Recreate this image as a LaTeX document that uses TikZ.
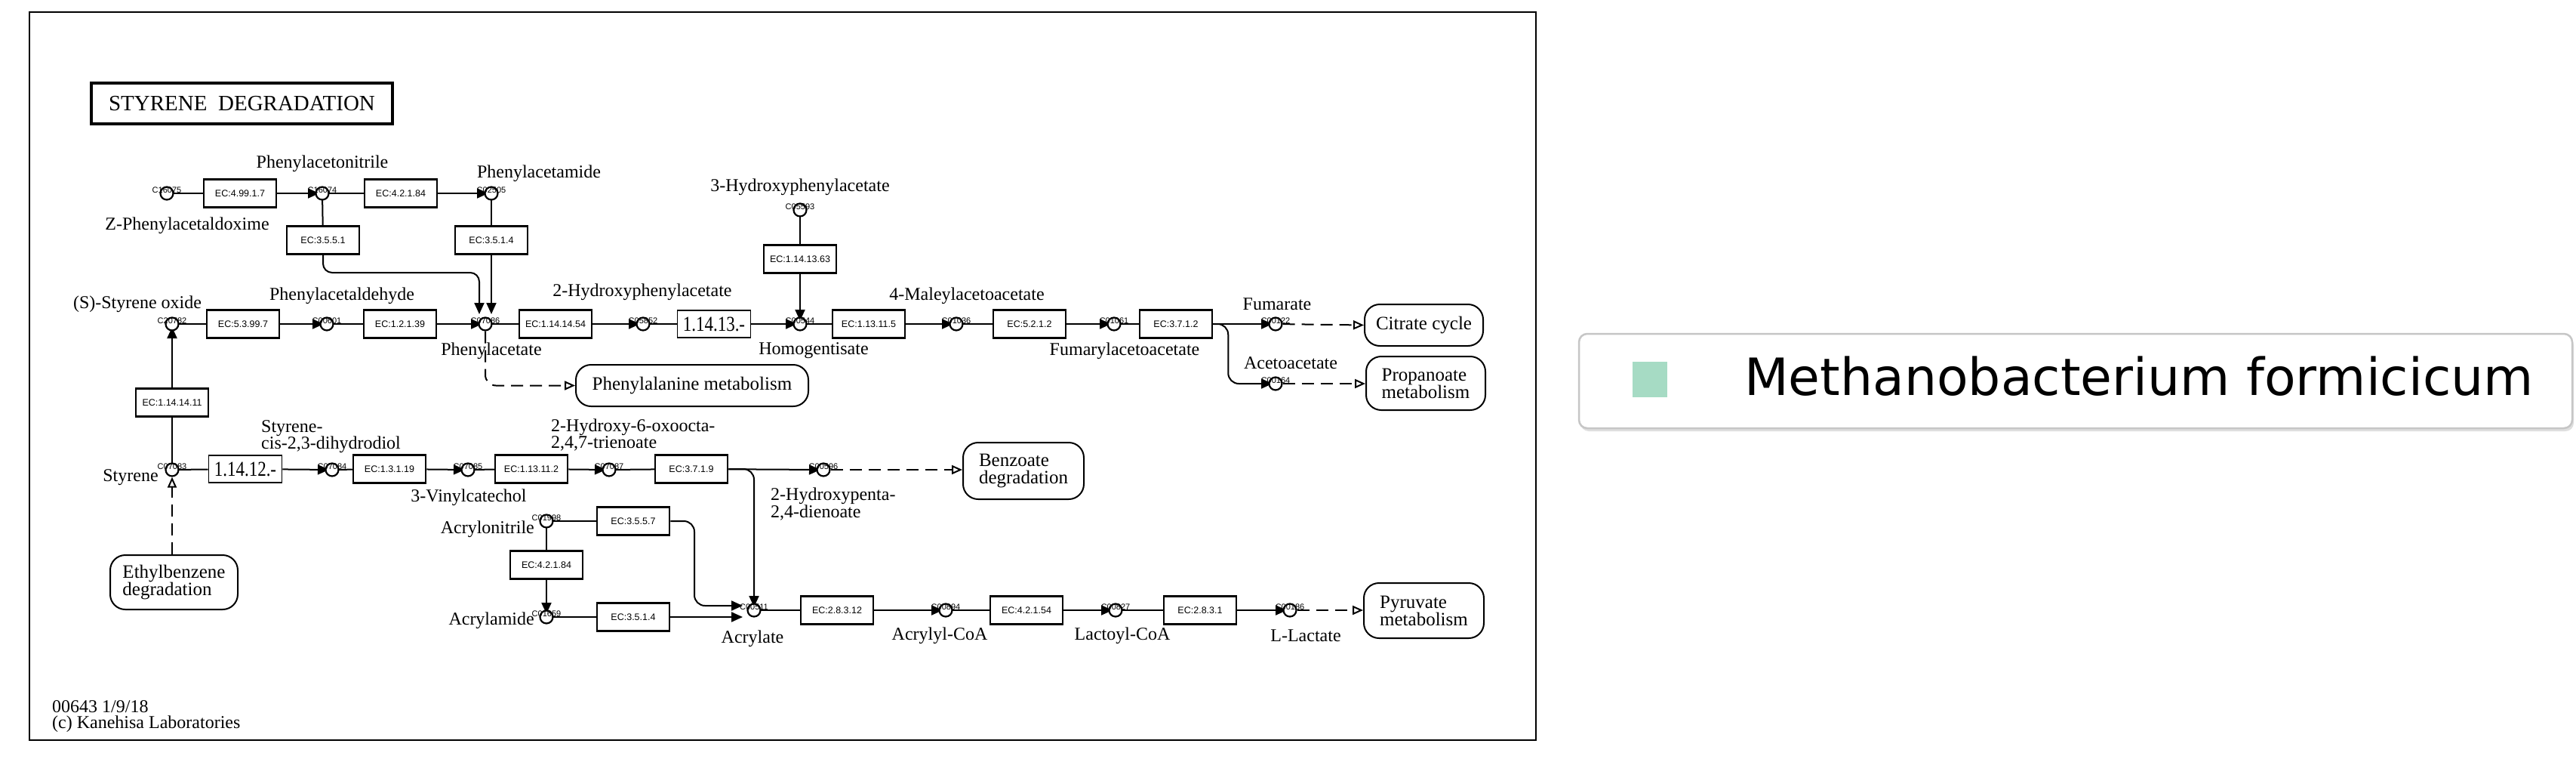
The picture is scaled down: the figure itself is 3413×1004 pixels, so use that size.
\documentclass[tikz,border=0pt]{standalone}
\usepackage{fontspec}
\setmainfont{Liberation Serif}
\newfontfamily\sansk{Liberation Sans}
\newfontfamily\dejavu{DejaVu Sans}
\usetikzlibrary{arrows.meta,calc}
\definecolor{legsq}{RGB}{166,219,196}
\tikzset{
 ec/.style={draw, line width=2.5pt, minimum width=96pt, minimum height=37pt, inner sep=0pt, fill=white, font=\sansk\fontsize{12.5}{14}\selectfont},
 ecbig/.style={draw, line width=1.6pt, minimum width=97pt, minimum height=36pt, inner sep=0pt, fill=white, font=\fontsize{28}{28}\selectfont},
 cpd/.style={circle, draw, line width=2.2pt, minimum size=17pt, inner sep=0pt, fill=white},
 idl/.style={font=\sansk\fontsize{11}{12}\selectfont, inner sep=0pt},
 lbl/.style={font=\fontsize{24}{21}\selectfont, inner sep=0pt, align=center},
 lbll/.style={font=\fontsize{24}{21}\selectfont, inner sep=0pt, align=left},
 mapbox/.style={draw, line width=2pt, rounded corners=20pt, font=\fontsize{25}{23}\selectfont, align=left, inner sep=0pt},
 conn/.style={line width=2pt},
 rx/.style={line width=2pt, -{Triangle[length=15pt,width=13pt]}, shorten >=4pt},
 mapl/.style={line width=2pt, dash pattern=on 16pt off 9pt, -{Triangle[open,length=14pt,width=12pt]}},
}
\newcommand\mkcpd[4]{\node[cpd] (#1) at (#2,#3) {}; \node[idl] (#1id) at (#2,#3-4) {#4};}
\begin{document}
\begin{tikzpicture}[x=1pt,y=-1pt]
\useasboundingbox (0,0) rectangle (3413,1004);
\fill[white] (0,0) rectangle (3413,1004);
\draw[line width=2.5pt] (39,16) rectangle (2035,980);
\node[draw, line width=3.5pt, minimum width=399pt, minimum height=54pt, inner sep=0pt, font=\fontsize{29}{29}\selectfont] (title) at (320.5,137) {STYRENE\ \ DEGRADATION};

% ---- EC boxes
\node[ec] (e49917) at (318,256) {EC:4.99.1.7};
\node[ec] (e42184a) at (531,256) {EC:4.2.1.84};
\node[ec] (e3551) at (428,318) {EC:3.5.5.1};
\node[ec] (e3514a) at (651,318) {EC:3.5.1.4};
\node[ec] (e53997) at (322,429) {EC:5.3.99.7};
\node[ec] (e12139) at (530,429) {EC:1.2.1.39};
\node[ec] (e1141454) at (736,429) {EC:1.14.14.54};
\node[ecbig] (n11413) at (946,429) {\scalebox{0.82}[1]{1.14.13.-}};
\node[ec] (e1141363) at (1060,343) {EC:1.14.13.63};
\node[ec] (e113115) at (1151,429) {EC:1.13.11.5};
\node[ec] (e5212) at (1364,429) {EC:5.2.1.2};
\node[ec] (e3712) at (1558,429) {EC:3.7.1.2};
\node[ec] (e1141411) at (228,533) {EC:1.14.14.11};
\node[ecbig] (n11412) at (325,621) {\scalebox{0.82}[1]{1.14.12.-}};
\node[ec] (e13119) at (516,621) {EC:1.3.1.19};
\node[ec] (e113112) at (704,621) {EC:1.13.11.2};
\node[ec] (e3719) at (916,621) {EC:3.7.1.9};
\node[ec] (e3557) at (839,690) {EC:3.5.5.7};
\node[ec] (e42184b) at (724,748) {EC:4.2.1.84};
\node[ec] (e3514b) at (839,817) {EC:3.5.1.4};
\node[ec] (e28312) at (1109,808) {EC:2.8.3.12};
\node[ec] (e42154) at (1360,808) {EC:4.2.1.54};
\node[ec] (e2831) at (1590,808) {EC:2.8.3.1};

% ---- map boxes
\node[mapbox, align=center, minimum width=157pt, minimum height=55pt] (citrate) at (1886.5,430.5) {Citrate cycle};
\node[mapbox, minimum width=158pt, minimum height=71pt] (propan) at (1889,507.5) {Propanoate\\metabolism};
\node[mapbox, align=center, minimum width=308pt, minimum height=55pt] (phe) at (917,510.5) {Phenylalanine metabolism};
\node[mapbox, minimum width=160pt, minimum height=75pt] (benz) at (1356,623.5) {Benzoate\\degradation};
\node[mapbox, minimum width=169pt, minimum height=72pt] (ethyl) at (230.5,771) {Ethylbenzene\\degradation};
\node[mapbox, minimum width=159pt, minimum height=73pt] (pyr) at (1886.5,808.5) {Pyruvate\\metabolism};

% ---- free connector ends
\coordinate (pa1) at (635,420);
\coordinate (pa2) at (651,420);
\coordinate (ac1) at (988,802);
\coordinate (ac2) at (988,817);

% ---- connectors (drawn before compounds)
\draw[conn] (221,256) -- (e49917);
\draw[rx] (e49917) -- (427,256);
\draw[conn] (427,256) -- (e42184a);
\draw[rx] (e42184a) -- (651,256);
\draw[conn] (427,256) -- (e3551);
\draw[conn] (651,256) -- (e3514a);
\draw[rx, rounded corners=12pt] (e3551.south) -- (428,361) -- (635,361) -- (pa1);
\draw[rx] (e3514a.south) -- (pa2);

\draw[conn] (228,429) -- (e53997);
\draw[rx] (e53997) -- (433,429);
\draw[conn] (433,429) -- (e12139);
\draw[rx] (e12139) -- (643,429);
\draw[conn] (643,429) -- (e1141454);
\draw[rx] (e1141454) -- (852,429);
\draw[conn] (852,429) -- (n11413);
\draw[rx] (n11413) -- (1060,429);
\draw[conn] (1060,278) -- (e1141363);
\draw[rx] (e1141363) -- (1060,429);
\draw[conn] (1060,429) -- (e113115);
\draw[rx] (e113115) -- (1267,429);
\draw[conn] (1267,429) -- (e5212);
\draw[rx] (e5212) -- (1476,429);
\draw[conn] (1476,429) -- (e3712);
\draw[rx] (e3712) -- (1690,429);
\draw[rx, rounded corners=14pt] (e3712.east) -- ++(20,0) |- (1690,508);

\draw[conn] (228,622) -- (e1141411);
\draw[rx] (e1141411) -- (228,429);
\draw[conn] (228,622) -- (n11412);
\draw[rx] (n11412) -- (440,622);
\draw[conn] (440,622) -- (e13119);
\draw[rx] (e13119) -- (620,622);
\draw[conn] (620,622) -- (e113112);
\draw[rx] (e113112) -- (807,622);
\draw[conn] (807,622) -- (e3719);
\draw[rx] (e3719) -- (1091,622);
\draw[rx, rounded corners=14pt] (e3719.east) -| (999,808);

\draw[conn] (724,690) -- (e3557);
\draw[rx, rounded corners=14pt] (e3557.east) -- (920,690) -- (920,802) -- (ac1);
\draw[conn] (724,690) -- (e42184b);
\draw[rx] (e42184b) -- (724,817);
\draw[conn] (724,817) -- (e3514b);
\draw[rx] (e3514b) -- (ac2);

\draw[conn] (999,808) -- (e28312);
\draw[rx] (e28312) -- (1253,808);
\draw[conn] (1253,808) -- (e42154);
\draw[rx] (e42154) -- (1478,808);
\draw[conn] (1478,808) -- (e2831);
\draw[rx] (e2831) -- (1709,808);

% ---- compounds
\mkcpd{c16075}{221}{256}{C16075}
\mkcpd{c16074}{427}{256}{C16074}
\mkcpd{c02505}{651}{256}{C02505}
\mkcpd{c07086}{643}{429}{C07086}
\mkcpd{c20782}{228}{429}{C20782}
\mkcpd{c00601}{433}{429}{C00601}
\mkcpd{c05852}{852}{429}{C05852}
\mkcpd{c00544}{1060}{429}{C00544}
\mkcpd{c05593}{1060}{278}{C05593}
\mkcpd{c01036}{1267}{429}{C01036}
\mkcpd{c01061}{1476}{429}{C01061}
\mkcpd{c00122}{1690}{429}{C00122}
\mkcpd{c00164}{1690}{508}{C00164}
\mkcpd{c07083}{228}{622}{C07083}
\mkcpd{c07084}{440}{622}{C07084}
\mkcpd{c07085}{620}{622}{C07085}
\mkcpd{c07087}{807}{622}{C07087}
\mkcpd{c00596}{1091}{622}{C00596}
\mkcpd{c01998}{724}{690}{C01998}
\mkcpd{c01659}{724}{817}{C01659}
\mkcpd{c00511}{999}{808}{C00511}
\mkcpd{c00894}{1253}{808}{C00894}
\mkcpd{c00827}{1478}{808}{C00827}
\mkcpd{c00186}{1709}{808}{C00186}

% ---- map links
\draw[mapl] (c00122) -- (citrate.west);
\draw[mapl] (c00164) -- (propan.west |- c00164);
\draw[mapl, rounded corners=14pt] (c07086.south) |- (phe.west);
\draw[mapl] (c00596) -- (benz.west |- c00596);
\draw[mapl] (c00186) -- (pyr.west |- c00186);
\draw[mapl] (ethyl.north -| c07083) -- (c07083.south);

% ---- labels
\node[lbl] (lpan) at (427,217) {Phenylacetonitrile};
\node[lbl] (lzpa) at (248,299) {Z-Phenylacetaldoxime};
\node[lbl] (lpam) at (714,230) {Phenylacetamide};
\node[lbl] (lpald) at (453,392) {Phenylacetaldehyde};
\node[lbl] (lso) at (182,403) {(S)-Styrene oxide};
\node[lbl] (lpa) at (651,465) {Phenylacetate};
\node[lbl] (l2hpa) at (851,387) {2-Hydroxyphenylacetate};
\node[lbl] (l3hpa) at (1060,248) {3-Hydroxyphenylacetate};
\node[lbl] (lhg) at (1078,464) {Homogentisate};
\node[lbl] (lmaa) at (1281,392) {4-Maleylacetoacetate};
\node[lbl] (lfaa) at (1490,465) {Fumarylacetoacetate};
\node[lbl] (lfum) at (1692,403) {Fumarate};
\node[lbl] (lacac) at (1710,481) {Acetoacetate};
\node[lbl] (lsty) at (173,632) {Styrene};
\node[lbll, anchor=north west] (lscd) at (346,556) {Styrene-\\cis-2,3-dihydrodiol};
\node[lbll, anchor=north west] (lhot) at (730,555) {2-Hydroxy-6-oxoocta-\\2,4,7-trienoate};
\node[lbl] (lvc) at (621,659) {3-Vinylcatechol};
\node[lbll, anchor=north west] (lhpd) at (1021,646) {2-Hydroxypenta-\\2,4-dienoate};
\node[lbl, anchor=east] (lacn) at (708,701) {Acrylonitrile};
\node[lbl, anchor=east] (lacm) at (708,822) {Acrylamide};
\node[lbl] (lacr) at (997,846) {Acrylate};
\node[lbl] (lacoa) at (1245,842) {Acrylyl-CoA};
\node[lbl] (llcoa) at (1487,842) {Lactoyl-CoA};
\node[lbl] (llac) at (1730,842) {L-Lactate};
\node[lbll, anchor=north west] (foot) at (69,927) {00643 1/9/18\\(c) Kanehisa Laboratories};

% ---- legend
\fill[gray!25, rounded corners=11pt] (2094,446) rectangle (3410,571);
\draw[gray!45, line width=2.5pt, fill=white, rounded corners=11pt] (2092,442) rectangle (3408,567);
\fill[legsq] (2163,479) rectangle (2209,526);
\node[anchor=base west, inner sep=0pt, font=\dejavu\fontsize{68}{68}\selectfont] (legtext) at (2311,523) {Methanobacterium formicicum};
\end{tikzpicture}
\end{document}
